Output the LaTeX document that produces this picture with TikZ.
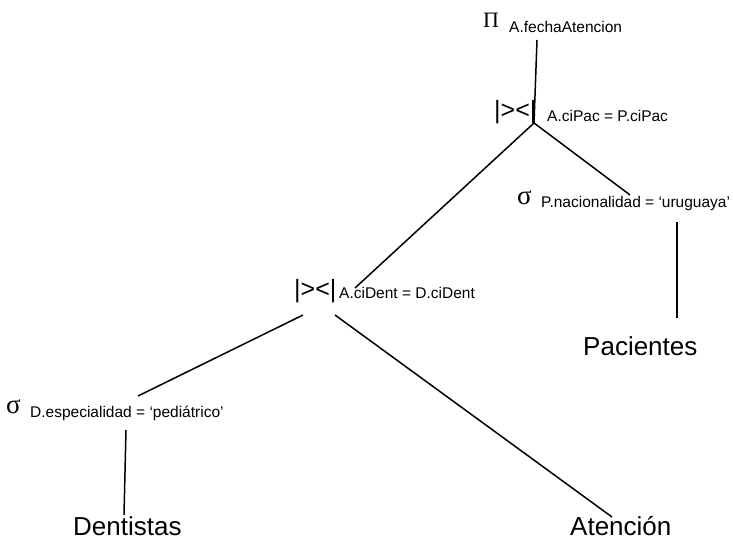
\documentclass[tikz,border=0pt]{standalone}
\usepackage{fontspec}
\setmainfont{Liberation Sans}
\newfontfamily\greekserif{Liberation Serif}
\begin{document}
\begin{tikzpicture}[x=1pt,y=-1pt,
  op/.style={font=\greekserif\fontsize{22}{26}\selectfont, inner sep=0pt, anchor=base west},
  selop/.style={font=\greekserif\fontsize{27}{32}\selectfont, inner sep=0pt, anchor=base west},
  joinop/.style={font=\fontsize{25}{30}\selectfont, inner sep=0pt, anchor=base west},
  cond/.style={font=\fontsize{15.5}{18}\selectfont, inner sep=0pt, anchor=base west},
  rel/.style={font=\fontsize{26}{31}\selectfont, inner sep=0pt, anchor=base west},
  edge/.style={line width=1.5pt}]
\useasboundingbox (0,0) rectangle (733,541);

% projection
\node[op] (proj) at (483,27) {Π};
\node[cond] (projc) at (509,32) {A.fechaAtencion};

% upper join
\node[joinop] (join1) at (494,118) {|><|};
\node[cond] (join1c) at (547,121) {A.ciPac = P.ciPac};

% selection on Pacientes
\node[selop] (selp) at (517,204) {σ};
\node[cond] (selpc) at (541,207) {P.nacionalidad = ‘uruguaya’};
\node[rel] (pac) at (583,355) {Pacientes};

% lower join
\node[joinop] (join2) at (294,297) {|><|};
\node[cond] (join2c) at (339,298) {A.ciDent = D.ciDent};

% selection on Dentistas
\node[selop] (seld) at (6,413) {σ};
\node[cond] (seldc) at (30,417) {D.especialidad = ‘pediátrico’};

% base relations
\node[rel] (dent) at (73,535) {Dentistas};
\node[rel] (aten) at (570,535) {Atención};

% edge end points
\coordinate (projB) at (537,40);
\coordinate (j1) at (534,123);
\coordinate (j1L) at (355,288);
\coordinate (j1R) at (630,195);
\coordinate (selpB) at (677,222);
\coordinate (pacT) at (677,318);
\coordinate (j2L) at (303,315);
\coordinate (j2R) at (335,315);
\coordinate (seldR) at (138,396);
\coordinate (seldB) at (126,430);
\coordinate (dentT) at (124,515);
\coordinate (atenT) at (612,517);

\draw[edge] (projB) -- (j1);
\draw[edge] (j1) -- (j1L);
\draw[edge] (j1) -- (j1R);
\draw[edge] (selpB) -- (pacT);
\draw[edge] (j2L) -- (seldR);
\draw[edge] (j2R) -- (atenT);
\draw[edge] (seldB) -- (dentT);
\end{tikzpicture}
\end{document}
